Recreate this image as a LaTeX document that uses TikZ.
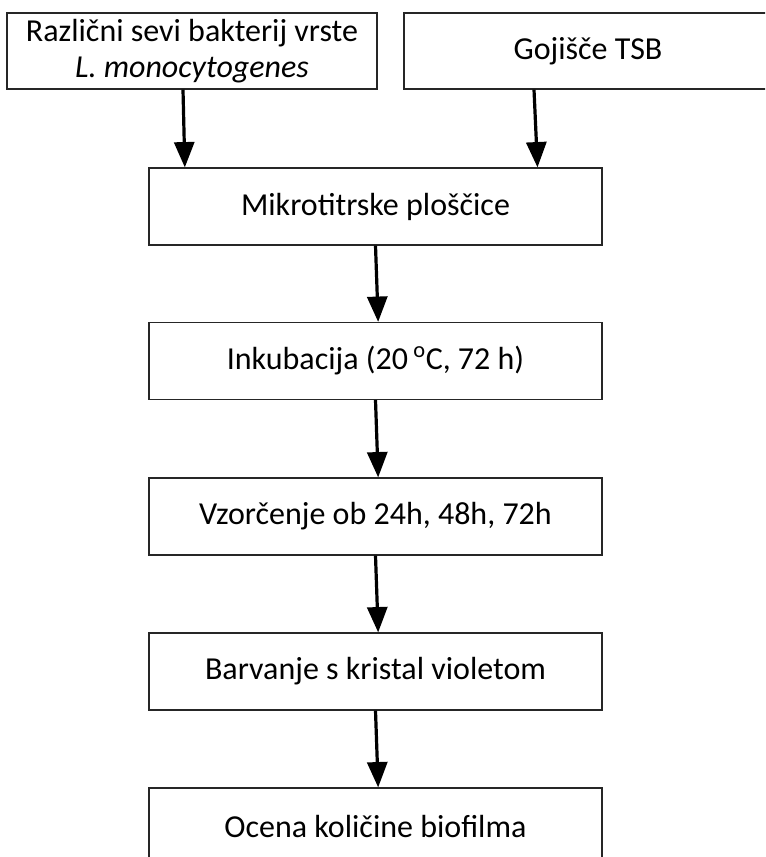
\documentclass[tikz,border=0pt]{standalone}
\usepackage{fontspec}
\setmainfont{Carlito}
\usetikzlibrary{arrows.meta}
\tikzset{
  stepbox/.style={draw=black!85, line width=0.9pt, fill=white, inner sep=0pt, align=center,
    font=\fontsize{24}{26.5}\selectfont},
  midbox/.style={stepbox, minimum width=339.75pt, minimum height=57.75pt},
  flow/.style={line width=2.4pt, -{Triangle[width=15pt,length=19pt]}}
}
\begin{document}
\begin{tikzpicture}[x=0.75pt, y=-0.75pt]
\useasboundingbox (0,0) rectangle (765,857);
\clip (0,0) rectangle (765,857);
\node[stepbox, minimum width=277.5pt, minimum height=57pt] (src) at (192,51)
  {Različni sevi bakterij vrste\\\textit{L. monocytogenes}};
\node[stepbox, minimum width=276pt, minimum height=57pt] (tsb) at (588,51) {Gojišče TSB};
\node[midbox] (plate) at (375.5,206.5) {Mikrotitrske ploščice};
\node[midbox] (inc) at (375.5,361) {Inkubacija (20\,\textsuperscript{o}C, 72 h)};
\node[midbox] (samp) at (375.5,516.5) {Vzorčenje ob 24h, 48h, 72h};
\node[midbox] (stain) at (375.5,671.5) {Barvanje s kristal violetom};
\node[midbox] (eval) at (375.5,826.5) {Ocena količine biofilma};
\draw[flow] ([xshift=-6.75pt]src.south) -- ([xshift=-143pt]plate.north);
\draw[flow] ([xshift=-40.5pt]tsb.south) -- ([xshift=121.5pt]plate.north);
\draw[flow] (plate.south) -- ([xshift=2pt]inc.north);
\draw[flow] (inc.south) -- ([xshift=2pt]samp.north);
\draw[flow] (samp.south) -- ([xshift=2pt]stain.north);
\draw[flow] (stain.south) -- ([xshift=2pt]eval.north);
\end{tikzpicture}
\end{document}
